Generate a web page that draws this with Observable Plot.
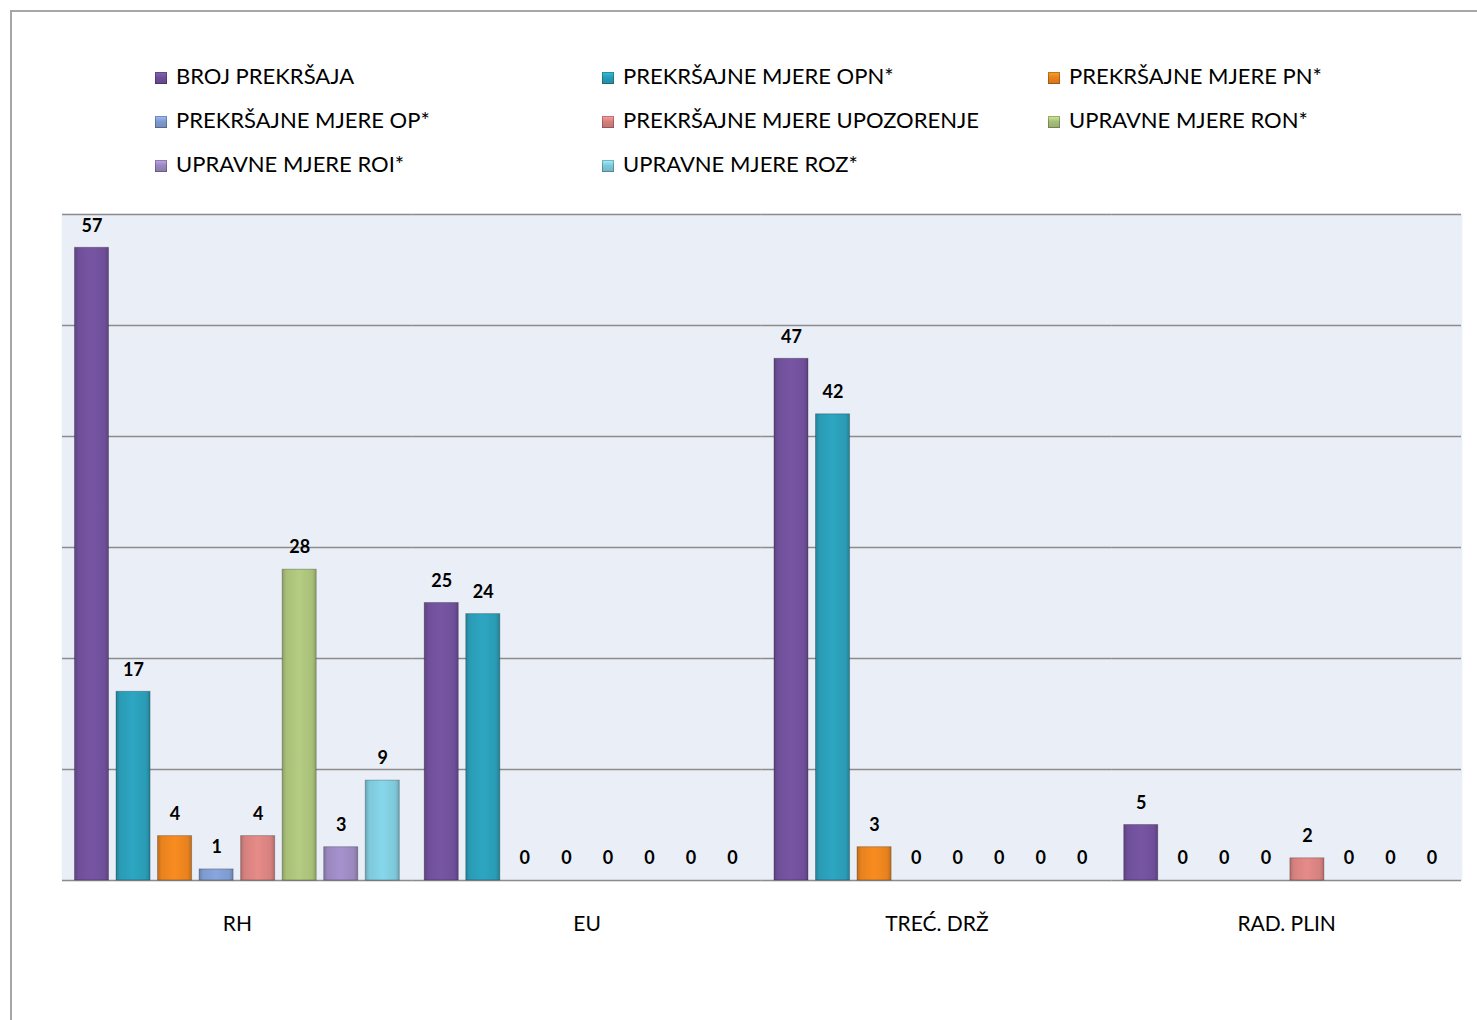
<!DOCTYPE html>
<html>
<head>
<meta charset="utf-8">
<script src="https://cdn.jsdelivr.net/npm/d3@7"></script>
<script src="https://cdn.jsdelivr.net/npm/@observablehq/plot@0.6"></script>
<style>
  html, body { margin: 0; padding: 0; background: #fff; }
  #wrap { position: relative; width: 1477px; height: 1020px; overflow: hidden; font-family: Lato, "Open Sans", sans-serif; }
  #border { position: absolute; left: 10px; top: 10px; width: 1500px; height: 1100px; border-left: 2px solid #a6a6a6; border-top: 2px solid #a6a6a6; }
  #legend { position: relative; height: 190px; }
  .li { position: absolute; font-size: 22px; color: #000; white-space: nowrap; line-height: 24px; }
  .sw { display: inline-block; width: 12px; height: 12px; margin-right: 9px; vertical-align: 0px; box-shadow: inset 0 0 0 1px rgba(0,0,0,0.25); }
  #chart { position: absolute; left: 0; top: 190px; }
</style>
</head>
<body>
<div id="wrap">
  <div id="border"></div>
  <div id="legend"></div>
  <div id="chart"></div>
</div>
<script>
const categories = ["RH", "EU", "TREĆ. DRŽ", "RAD. PLIN"];
const series = [
  "BROJ PREKRŠAJA",
  "PREKRŠAJNE MJERE OPN*",
  "PREKRŠAJNE MJERE PN*",
  "PREKRŠAJNE MJERE OP*",
  "PREKRŠAJNE MJERE UPOZORENJE",
  "UPRAVNE MJERE RON*",
  "UPRAVNE MJERE ROI*",
  "UPRAVNE MJERE ROZ*"
];
const colors = ["#6f4f99", "#2a9bb5", "#e8821e", "#7f9bcf", "#d6817f", "#a8bf78", "#9b88bf", "#7ec8db"];
const valuesRH = [57, 17, 4, 1, 4, 28, 3, 9];
const valuesEU = [25, 24, 0, 0, 0, 0, 0, 0];
const valuesTD = [47, 42, 3, 0, 0, 0, 0, 0];
const valuesRP = [5, 0, 0, 0, 2, 0, 0, 0];
const gridValues = [0, 10, 20, 30, 40, 50, 60];

const table = [];
[valuesRH, valuesEU, valuesTD, valuesRP].forEach((vals, ci) => {
  vals.forEach((v, si) => table.push({category: categories[ci], series: series[si], value: v}));
});

// legend
const legend = document.getElementById("legend");
const colX = [155, 602, 1048];
const rowY = [64, 108, 152];
series.forEach((s, i) => {
  const d = document.createElement("div");
  d.className = "li";
  d.style.left = colX[i % 3] + "px";
  d.style.top = rowY[Math.floor(i / 3)] + "px";
  d.innerHTML = `<span class="sw" style="background:linear-gradient(180deg, ${d3.color(colors[i]).brighter(0.6)} 0%, ${colors[i]} 45%, ${d3.color(colors[i]).darker(0.3)} 100%)"></span>${s}`;
  legend.appendChild(d);
});

const gradIds = colors.map((c, i) => `url(#barGrad${i})`);

const plot = Plot.plot({
  width: 1477,
  height: 830,
  marginTop: 24,
  marginBottom: 140,
  marginLeft: 62,
  marginRight: 16,
  style: {fontFamily: "Lato, 'Open Sans', sans-serif", background: "transparent"},
  fx: {domain: categories, padding: 0, round: false, label: null},
  x: {domain: series, paddingInner: 0.18, paddingOuter: 0.3, round: false, axis: null},
  y: {domain: [0, 60], axis: null},
  color: {domain: series, range: gradIds},
  marks: [
    Plot.frame({fill: "#eaeff7", stroke: "#eaeff7", strokeWidth: 1.5}),
    Plot.ruleY(gridValues, {stroke: "#8c8c8c", strokeWidth: 1.5}),
    Plot.barY(table, {fx: "category", x: "series", y: "value", fill: "series", stroke: "#00000040", strokeWidth: 1}),
    Plot.text(table, {fx: "category", x: "series", y: "value", text: d => String(d.value), dy: -22, fontWeight: "bold", fontSize: 18, fill: "#000", lineAnchor: "middle"}),
    Plot.axisFx({anchor: "bottom", tickSize: 0, tickPadding: 36, fontSize: 21, label: null, fill: "#000"})
  ]
});

// gradients
const svgNS = "http://www.w3.org/2000/svg";
const defs = document.createElementNS(svgNS, "defs");
colors.forEach((c, i) => {
  const g = document.createElementNS(svgNS, "linearGradient");
  g.setAttribute("id", `barGrad${i}`);
  g.setAttribute("x1", "0"); g.setAttribute("x2", "1"); g.setAttribute("y1", "0"); g.setAttribute("y2", "0");
  const base = d3.color(c);
  const stops = [[0, base.darker(0.5)], [0.12, base], [0.5, base.brighter(0.2)], [0.88, base], [1, base.darker(0.5)]];
  stops.forEach(([o, col]) => {
    const s = document.createElementNS(svgNS, "stop");
    s.setAttribute("offset", o);
    s.setAttribute("stop-color", col.formatHex());
    g.appendChild(s);
  });
  defs.appendChild(g);
});
plot.insertBefore(defs, plot.firstChild);

document.getElementById("chart").appendChild(plot);
</script>
</body>
</html>
